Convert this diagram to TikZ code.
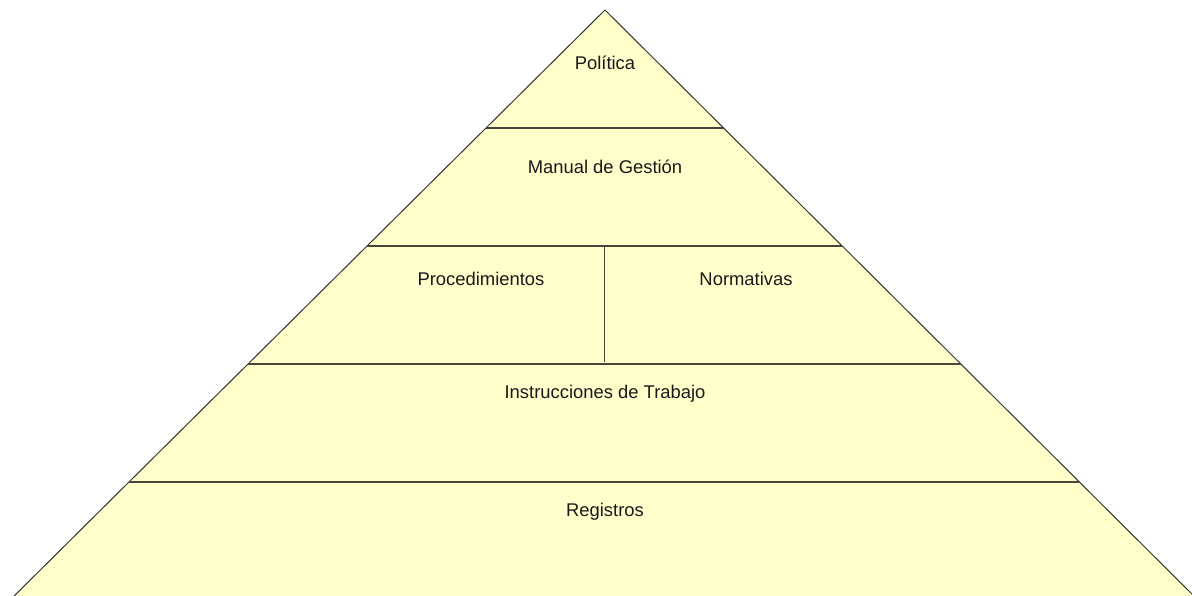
\documentclass[tikz,border=0pt]{standalone}
\usepackage{fontspec}
\setmainfont{Liberation Sans}
\usetikzlibrary{calc}
\definecolor{pyrfill}{HTML}{FFFFCC}
\definecolor{edgegray}{HTML}{333333}
\definecolor{tiergray}{HTML}{45453A}

\begin{document}
\begin{tikzpicture}[x=1pt,y=-1pt,
            tier/.style={draw=tiergray,line width=2pt},
            divider/.style={draw=tiergray,line width=1.5pt},
            level label/.style={font=\fontsize{18.4}{22}\selectfont,text=black!90}]
            \useasboundingbox (0,0) rectangle (1192,596);
            \coordinate (apex) at (605,10);
            \coordinate (bl) at (10,600);
            \coordinate (br) at (1198,600);
            \fill[pyrfill] (bl) -- (apex) -- (br) -- cycle;
            \draw[edgegray,line width=1pt] (bl) -- (apex) -- (br);
            % horizontal tiers
            \foreach \t/\n in {0.2/a,0.4/b,0.6/c,0.8/d} {
               \coordinate (l\n) at ($(apex)!\t!(bl)$);
               \coordinate (r\n) at ($(apex)!\t!(br)$);
               \draw[tier] (l\n) -- (r\n);
            }
            \coordinate (mtop) at ($(lb)!0.5!(rb)$);
            \draw[divider,shorten >=2pt] (mtop) -- (mtop |- lc);
            % texts
            \node[level label] (politica) at (605,63) {Política};
            \node[level label] (manual) at (605,167) {Manual de Gestión};
            \node[level label] (proced) at (481,279) {Procedimientos};
            \node[level label] (normas) at (746,279) {Normativas};
            \node[level label] (instruc) at (605,394) {Instrucciones de Trabajo};
            \node[level label] (registros) at (605,512) {Registros};
\end{tikzpicture}
\end{document}
